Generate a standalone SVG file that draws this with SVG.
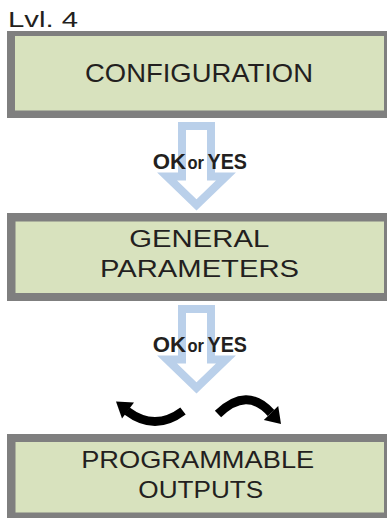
<svg xmlns="http://www.w3.org/2000/svg" width="387" height="518" viewBox="0 0 387 518">
<style>
.frame{fill:#7f7f7f}
.face{fill:#d8e2be}
.t{font-family:"Liberation Sans",Arial,sans-serif;fill:#231f20;text-anchor:middle}
.lbl{font-family:"Liberation Sans",Arial,sans-serif;font-weight:bold;fill:#231f20}
.big{fill:#ffffff;stroke:#bad0ea;stroke-width:8;stroke-linejoin:miter;stroke-miterlimit:10}
.band{fill:none;stroke:#000;stroke-width:9}
</style>
<defs>
<polygon id="bigArrow" class="big" points="182,126 211,126 211,176.5 226,176.5 196.5,205 167,176.5 182,176.5"/>
</defs>
<rect width="387" height="518" fill="#ffffff"/>
<text x="8" y="27.3" font-family="Liberation Sans, Arial, sans-serif" font-size="21.5" fill="#231f20" textLength="70" lengthAdjust="spacingAndGlyphs">Lvl. 4</text>

<g id="connectors">
  <use href="#bigArrow"/>
  <use href="#bigArrow" transform="translate(0,183)"/>
  <text class="lbl" y="169.3" font-size="22.5"><tspan x="152.7" textLength="33.3" lengthAdjust="spacingAndGlyphs">OK</tspan><tspan x="187.5" font-size="19" textLength="16.5" lengthAdjust="spacingAndGlyphs">or</tspan><tspan x="207.5" textLength="39.4" lengthAdjust="spacingAndGlyphs">YES</tspan></text>
  <text class="lbl" y="352.3" font-size="22.5"><tspan x="152.7" textLength="33.3" lengthAdjust="spacingAndGlyphs">OK</tspan><tspan x="187.5" font-size="19" textLength="16.5" lengthAdjust="spacingAndGlyphs">or</tspan><tspan x="207.5" textLength="39.4" lengthAdjust="spacingAndGlyphs">YES</tspan></text>
  <g id="arrow-left">
    <path class="band" d="M183,411 Q155,432 127,411"/>
    <polygon points="116,401.5 134,402.5 122,418.5" fill="#000"/>
  </g>
  <g id="arrow-right">
    <path class="band" d="M218,414 Q247,386 271,413"/>
    <polygon points="281,424 278.2,406.1 263.8,419.9" fill="#000"/>
  </g>
</g>

<g id="configuration">
  <rect class="frame" x="7" y="31" width="380" height="87"/>
  <rect class="face" x="15" y="36" width="369" height="74.5"/>
  <text class="t" x="199" y="81.7" font-size="25.5" textLength="228" lengthAdjust="spacingAndGlyphs">CONFIGURATION</text>
</g>

<g id="general-parameters">
  <rect class="frame" x="7" y="213" width="380" height="88"/>
  <rect class="face" x="15.5" y="221.5" width="368.5" height="71.5"/>
  <text class="t" x="199.3" y="246.7" font-size="23" textLength="140" lengthAdjust="spacingAndGlyphs">GENERAL</text>
  <text class="t" x="199.5" y="276.7" font-size="23" textLength="199" lengthAdjust="spacingAndGlyphs">PARAMETERS</text>
</g>

<g id="programmable-outputs">
  <rect class="frame" x="7" y="434" width="380" height="84"/>
  <rect class="face" x="15.5" y="442" width="368.5" height="70.5"/>
  <text class="t" x="197.7" y="468.3" font-size="24.5" textLength="233" lengthAdjust="spacingAndGlyphs">PROGRAMMABLE</text>
  <text class="t" x="200.8" y="498.3" font-size="23.5" textLength="125" lengthAdjust="spacingAndGlyphs">OUTPUTS</text>
</g>
</svg>
